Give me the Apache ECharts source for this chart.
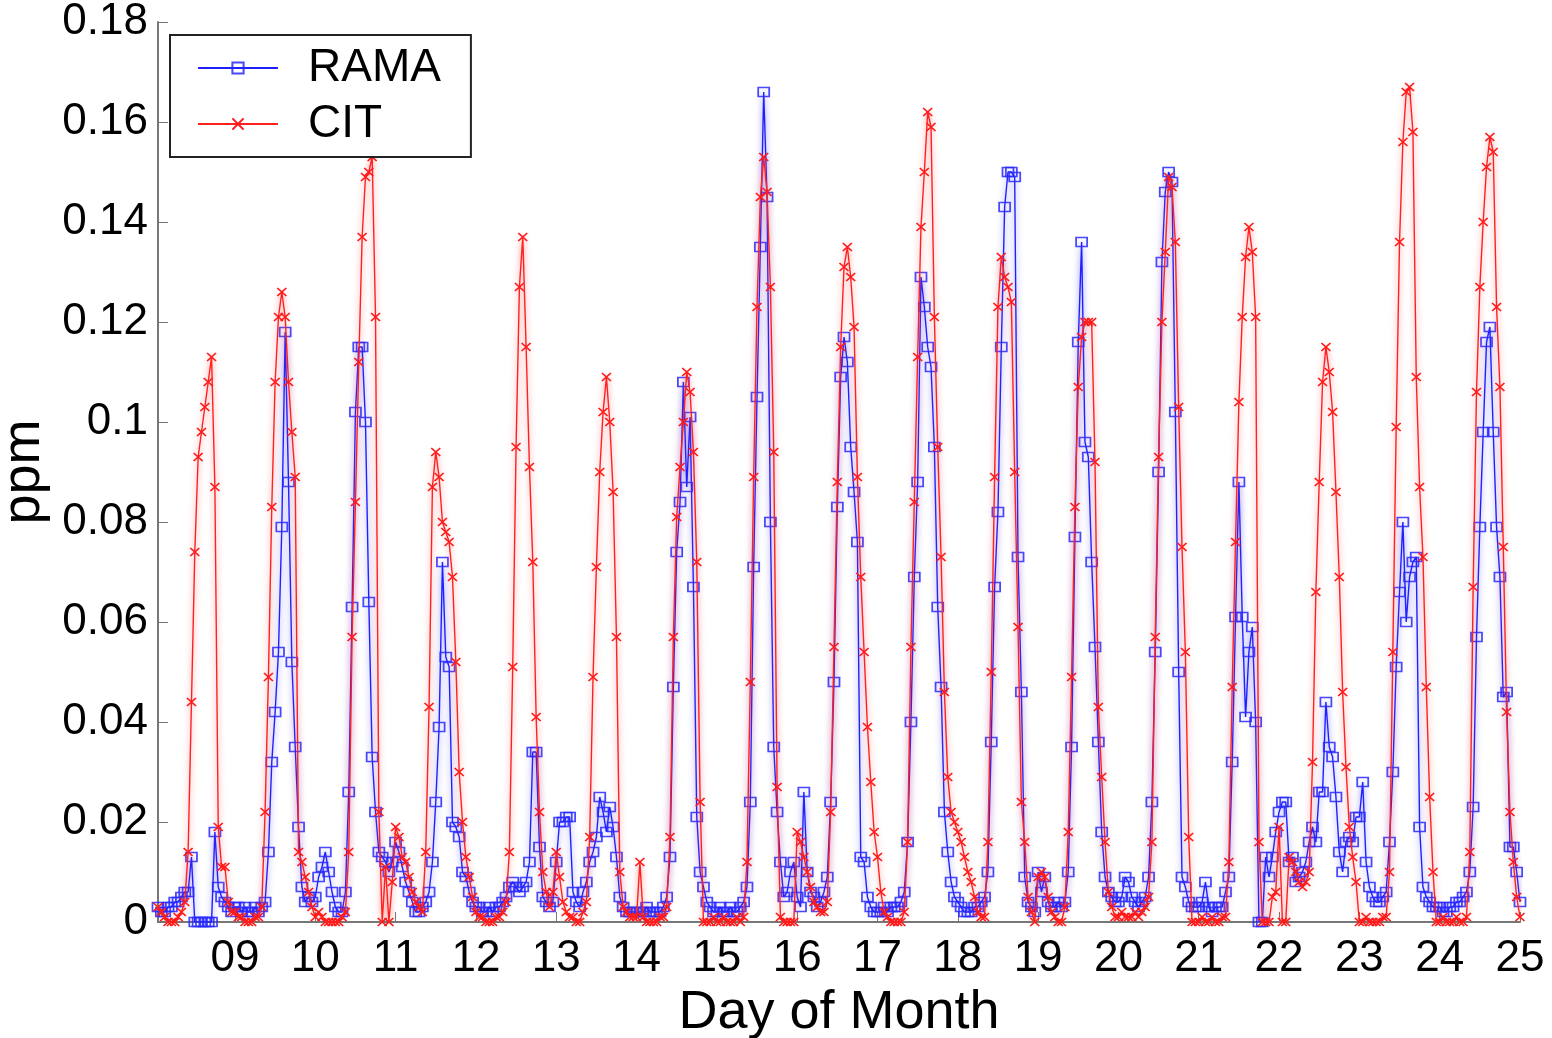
<!DOCTYPE html>
<html>
<head>
<meta charset="utf-8">
<title>RAMA vs CIT</title>
<script src="https://cdn.jsdelivr.net/npm/echarts@6/dist/echarts.min.js"></script>
<style>
  html, body { margin: 0; padding: 0; background: #fff; }
  #chart { width: 1552px; height: 1038px; }
</style>
</head>
<body>
<div id="chart"></div>
<script>
// hourly samples: first one is day 8 01:00, last one is day 25 00:00
const startDay = 8 + 1 / 24;
const endDay = 25;
const dayTicks = [9, 10, 11, 12, 13, 14, 15, 16, 17, 18, 19, 20, 21, 22, 23, 24, 25];

const rama = [
  /* 08 */ 0.003, 0.002, 0.002, 0.003, 0.003, 0.004, 0.004, 0.005, 0.006, 0.006, 0.013, 0, 0, 0, 0, 0, 0, 0.018, 0.007, 0.005, 0.004, 0.003, 0.002,
  /* 09 */ 0.003, 0.003, 0.002, 0.003, 0.002, 0.002, 0.003, 0.002, 0.003, 0.004, 0.014, 0.032, 0.042, 0.054, 0.079, 0.118, 0.088, 0.052, 0.035, 0.019, 0.007, 0.004, 0.005, 0.004,
  /* 10 */ 0.005, 0.009, 0.011, 0.014, 0.010, 0.006, 0.003, 0.002, 0.002, 0.006, 0.026, 0.063, 0.102, 0.115, 0.115, 0.100, 0.064, 0.033, 0.022, 0.014, 0.013, 0.012, 0.010, 0.012,
  /* 11 */ 0.016, 0.014, 0.011, 0.008, 0.006, 0.004, 0.002, 0.002, 0.003, 0.004, 0.006, 0.012, 0.024, 0.039, 0.072, 0.053, 0.051, 0.020, 0.019, 0.017, 0.010, 0.009, 0.006, 0.004,
  /* 12 */ 0.003, 0.003, 0.002, 0.002, 0.003, 0.002, 0.003, 0.003, 0.004, 0.005, 0.007, 0.008, 0.007, 0.006, 0.007, 0.008, 0.012, 0.034, 0.034, 0.015, 0.005, 0.004, 0.003, 0.004,
  /* 13 */ 0.012, 0.020, 0.020, 0.021, 0.021, 0.006, 0.004, 0.003, 0.006, 0.008, 0.012, 0.014, 0.017, 0.025, 0.022, 0.018, 0.023, 0.019, 0.013, 0.005, 0.003, 0.002, 0.002, 0.002,
  /* 14 */ 0.002, 0.002, 0.002, 0.003, 0.002, 0.002, 0.002, 0.002, 0.003, 0.005, 0.013, 0.047, 0.074, 0.084, 0.108, 0.087, 0.101, 0.067, 0.021, 0.010, 0.007, 0.004, 0.003, 0.002,
  /* 15 */ 0.002, 0.003, 0.002, 0.002, 0.003, 0.002, 0.002, 0.003, 0.004, 0.007, 0.024, 0.071, 0.105, 0.135, 0.166, 0.145, 0.080, 0.035, 0.022, 0.012, 0.005, 0.006, 0.010, 0.012,
  /* 16 */ 0.005, 0.003, 0.026, 0.010, 0.006, 0.005, 0.003, 0.004, 0.006, 0.009, 0.024, 0.048, 0.083, 0.109, 0.117, 0.112, 0.095, 0.086, 0.076, 0.013, 0.012, 0.005, 0.003, 0.002,
  /* 17 */ 0.002, 0.002, 0.003, 0.002, 0.003, 0.003, 0.003, 0.004, 0.006, 0.016, 0.040, 0.069, 0.088, 0.129, 0.123, 0.115, 0.111, 0.095, 0.063, 0.047, 0.022, 0.014, 0.008, 0.005,
  /* 18 */ 0.004, 0.003, 0.002, 0.002, 0.002, 0.003, 0.003, 0.004, 0.005, 0.010, 0.036, 0.067, 0.082, 0.115, 0.143, 0.150, 0.150, 0.149, 0.073, 0.046, 0.009, 0.004, 0.003, 0.002,
  /* 19 */ 0.010, 0.006, 0.009, 0.004, 0.003, 0.003, 0.004, 0.003, 0.004, 0.010, 0.035, 0.077, 0.116, 0.136, 0.096, 0.093, 0.072, 0.055, 0.036, 0.018, 0.009, 0.006, 0.005, 0.004,
  /* 20 */ 0.004, 0.005, 0.009, 0.008, 0.005, 0.004, 0.003, 0.004, 0.005, 0.009, 0.024, 0.054, 0.090, 0.132, 0.146, 0.150, 0.148, 0.102, 0.050, 0.009, 0.007, 0.004, 0.003, 0.003,
  /* 21 */ 0.003, 0.004, 0.008, 0.003, 0.002, 0.003, 0.003, 0.003, 0.006, 0.009, 0.032, 0.061, 0.088, 0.061, 0.041, 0.054, 0.059, 0.040, 0.000, 0.000, 0.013, 0.009, 0.013, 0.018,
  /* 22 */ 0.022, 0.024, 0.024, 0.012, 0.013, 0.008, 0.009, 0.010, 0.012, 0.016, 0.019, 0.016, 0.026, 0.026, 0.044, 0.035, 0.033, 0.025, 0.014, 0.010, 0.016, 0.017, 0.016, 0.021,
  /* 23 */ 0.021, 0.028, 0.012, 0.007, 0.005, 0.004, 0.004, 0.005, 0.006, 0.016, 0.030, 0.051, 0.066, 0.080, 0.060, 0.069, 0.072, 0.073, 0.019, 0.007, 0.005, 0.004, 0.003, 0.003,
  /* 24 */ 0.003, 0.002, 0.002, 0.003, 0.003, 0.004, 0.004, 0.005, 0.006, 0.010, 0.023, 0.057, 0.079, 0.098, 0.116, 0.119, 0.098, 0.079, 0.069, 0.045, 0.046, 0.015, 0.015, 0.010,
  /* 25 */ 0.004
];

const cit = [
  /* 08 */ 0.003, 0.002, 0.001, 0.000, 0.000, 0.000, 0.001, 0.002, 0.004, 0.014, 0.044, 0.074, 0.093, 0.098, 0.103, 0.108, 0.113, 0.087, 0.019, 0.011, 0.011, 0.004, 0.002,
  /* 09 */ 0.002, 0.001, 0.001, 0.000, 0.000, 0.000, 0.001, 0.001, 0.003, 0.022, 0.049, 0.083, 0.108, 0.121, 0.126, 0.121, 0.108, 0.098, 0.089, 0.014, 0.012, 0.009, 0.006, 0.003,
  /* 10 */ 0.001, 0.002, 0.001, 0.000, 0.000, 0.000, 0.000, 0.000, 0.001, 0.002, 0.014, 0.057, 0.084, 0.112, 0.137, 0.149, 0.150, 0.153, 0.121, 0.022, 0.000, 0.011, 0.000, 0.008,
  /* 11 */ 0.019, 0.017, 0.013, 0.012, 0.009, 0.006, 0.004, 0.003, 0.002, 0.014, 0.043, 0.087, 0.094, 0.089, 0.080, 0.078, 0.076, 0.069, 0.052, 0.030, 0.020, 0.013, 0.009, 0.005,
  /* 12 */ 0.002, 0.001, 0.001, 0.000, 0.000, 0.000, 0.001, 0.001, 0.002, 0.004, 0.014, 0.051, 0.095, 0.127, 0.137, 0.115, 0.091, 0.072, 0.041, 0.022, 0.010, 0.006, 0.003, 0.006,
  /* 13 */ 0.014, 0.009, 0.004, 0.002, 0.001, 0.001, 0.000, 0.000, 0.002, 0.004, 0.017, 0.049, 0.071, 0.090, 0.102, 0.109, 0.100, 0.086, 0.057, 0.010, 0.003, 0.002, 0.001, 0.001,
  /* 14 */ 0.001, 0.012, 0.001, 0.000, 0.000, 0.000, 0.000, 0.001, 0.001, 0.003, 0.017, 0.057, 0.081, 0.091, 0.100, 0.110, 0.106, 0.094, 0.072, 0.024, 0.000, 0.000, 0.000, 0.001,
  /* 15 */ 0.000, 0.000, 0.001, 0.000, 0.000, 0.000, 0.001, 0.000, 0.001, 0.012, 0.048, 0.089, 0.123, 0.145, 0.153, 0.146, 0.127, 0.094, 0.027, 0.001, 0.000, 0.000, 0.000, 0.000,
  /* 16 */ 0.018, 0.016, 0.013, 0.010, 0.007, 0.004, 0.003, 0.002, 0.002, 0.004, 0.022, 0.055, 0.088, 0.115, 0.131, 0.135, 0.129, 0.119, 0.089, 0.069, 0.054, 0.039, 0.028, 0.018,
  /* 17 */ 0.013, 0.006, 0.002, 0.001, 0.000, 0.000, 0.000, 0.000, 0.002, 0.016, 0.055, 0.084, 0.113, 0.139, 0.150, 0.162, 0.159, 0.121, 0.095, 0.073, 0.046, 0.029, 0.022, 0.020,
  /* 18 */ 0.018, 0.016, 0.013, 0.010, 0.008, 0.005, 0.002, 0.001, 0.001, 0.016, 0.050, 0.089, 0.123, 0.133, 0.129, 0.127, 0.124, 0.090, 0.059, 0.024, 0.016, 0.005, 0.002, 0.000,
  /* 19 */ 0.009, 0.010, 0.009, 0.005, 0.002, 0.001, 0.000, 0.000, 0.003, 0.018, 0.049, 0.083, 0.107, 0.117, 0.120, 0.120, 0.120, 0.092, 0.043, 0.029, 0.016, 0.006, 0.003, 0.001,
  /* 20 */ 0.001, 0.002, 0.001, 0.001, 0.001, 0.002, 0.001, 0.002, 0.003, 0.005, 0.016, 0.057, 0.093, 0.120, 0.134, 0.149, 0.147, 0.136, 0.103, 0.075, 0.054, 0.017, 0.000, 0.000,
  /* 21 */ 0.000, 0.001, 0.000, 0.000, 0.001, 0.000, 0.000, 0.001, 0.001, 0.012, 0.047, 0.076, 0.104, 0.121, 0.133, 0.139, 0.134, 0.121, 0.016, 0.000, 0.000, 0.000, 0.005, 0.006,
  /* 22 */ 0.019, 0.000, 0.000, 0.013, 0.012, 0.010, 0.008, 0.007, 0.008, 0.010, 0.032, 0.066, 0.088, 0.108, 0.115, 0.110, 0.102, 0.086, 0.069, 0.046, 0.031, 0.019, 0.013, 0.008,
  /* 23 */ 0.000, 0.000, 0.001, 0.000, 0.000, 0.000, 0.000, 0.001, 0.001, 0.010, 0.054, 0.099, 0.136, 0.156, 0.166, 0.167, 0.158, 0.109, 0.087, 0.073, 0.047, 0.025, 0.010, 0.000,
  /* 24 */ 0.000, 0.001, 0.000, 0.000, 0.000, 0.001, 0.000, 0.000, 0.001, 0.014, 0.067, 0.106, 0.127, 0.140, 0.151, 0.157, 0.154, 0.123, 0.107, 0.075, 0.042, 0.022, 0.012, 0.005,
  /* 25 */ 0.001
];

function toPoints(values) {
    return values.map((v, i) => [startDay + i / 24, v]);
}

const font = 'Liberation Sans, Arial, Helvetica, sans-serif';
const crossPath = 'path://M0,0L10,10M10,0L0,10';

let myChart = echarts.init(document.querySelector('#chart'));
let option = {
    animation: false,
    backgroundColor: '#fff',
    grid: {
        left: 158,
        right: 32,
        top: 22,
        bottom: 116,
        outerBoundsMode: 'none'
    },
    legend: {
        orient: 'vertical',
        left: 170,
        top: 35,
        itemWidth: 80,
        itemHeight: 14,
        itemGap: 6,
        padding: [8, 30, 8, 27],
        borderColor: '#222',
        borderWidth: 2,
        backgroundColor: '#fff',
        textStyle: {
            fontFamily: font,
            fontSize: 46,
            color: '#000',
            lineHeight: 50,
            padding: [0, 0, 0, 25]
        },
        data: ['RAMA', 'CIT']
    },
    xAxis: {
        type: 'value',
        min: startDay,
        max: endDay,
        name: 'Day of Month',
        nameLocation: 'middle',
        nameGap: 56,
        nameTextStyle: { fontFamily: font, fontSize: 54, color: '#000' },
        axisLine: { lineStyle: { color: '#777', width: 2 } },
        axisTick: { inside: true, length: 10, lineStyle: { color: '#777' }, customValues: dayTicks },
        axisLabel: {
            fontFamily: font,
            fontSize: 44,
            color: '#000',
            margin: 15,
            customValues: dayTicks,
            formatter: v => String(Math.round(v)).padStart(2, '0')
        },
        splitLine: { show: false }
    },
    yAxis: {
        type: 'value',
        min: 0,
        max: 0.18,
        interval: 0.02,
        name: 'ppm',
        nameLocation: 'middle',
        nameGap: 100,
        nameTextStyle: { fontFamily: font, fontSize: 54, color: '#000' },
        axisLine: { show: true, lineStyle: { color: '#777', width: 2 } },
        axisTick: { show: true, inside: true, length: 10, lineStyle: { color: '#777' } },
        axisLabel: {
            fontFamily: font,
            fontSize: 44,
            color: '#000',
            margin: 10,
            formatter: v => String(+v.toFixed(2))
        },
        splitLine: { show: false }
    },
    series: [
        {
            name: 'RAMA',
            type: 'line',
            data: toPoints(rama),
            symbol: 'rect',
            symbolSize: [11, 9],
            showAllSymbol: true,
            itemStyle: { color: 'rgba(0,0,0,0)', borderColor: 'rgba(40,40,255,0.85)', borderWidth: 1.6 },
            lineStyle: { color: '#2020ff', width: 1.4, shadowColor: 'rgba(60,60,255,0.7)', shadowBlur: 6 },
            emphasis: { disabled: true },
            z: 2
        },
        {
            name: 'CIT',
            type: 'line',
            data: toPoints(cit),
            symbol: crossPath,
            symbolSize: [9, 8],
            showAllSymbol: true,
            itemStyle: { color: 'rgba(0,0,0,0)', borderColor: '#ff1a1a', borderWidth: 1.6 },
            lineStyle: { color: '#ff2020', width: 1.4, shadowColor: 'rgba(255,60,60,0.7)', shadowBlur: 6 },
            emphasis: { disabled: true },
            z: 3
        }
    ]
};
myChart.setOption(option);
</script>
</body>
</html>
